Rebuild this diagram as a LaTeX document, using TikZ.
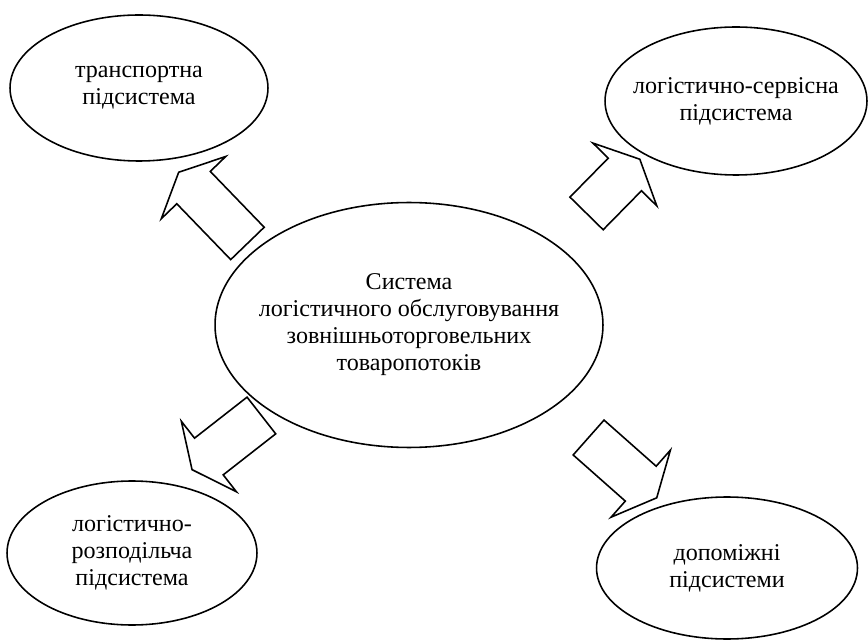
\documentclass[tikz,border=0pt]{standalone}
\usepackage{fontspec}
\setmainfont{Liberation Serif}
\usetikzlibrary{shapes.geometric, shapes.arrows}

\begin{document}
\begin{tikzpicture}[x=0.02cm, y=-0.02cm,
  bubble/.style={draw, ellipse, line width=0.9pt, inner sep=0pt},
  txt/.style={align=center, font=\fontsize{13.7}{15.4}\selectfont},
  blockarr/.style={draw, single arrow, line width=0.9pt, anchor=tail,
    inner xsep=0pt, inner ysep=0.45cm, single arrow head extend=0.43cm,
    single arrow tip angle=129}
]
  \useasboundingbox (0,0) rectangle (868,641);

  \node[bubble, minimum width=7.76cm, minimum height=4.9cm]  (sys)    at (409,325) {};
  \node[bubble, minimum width=5.16cm, minimum height=2.92cm] (transp) at (139,88)  {};
  \node[bubble, minimum width=5.24cm, minimum height=2.96cm] (serv)   at (736,101) {};
  \node[bubble, minimum width=5.0cm,  minimum height=2.88cm] (distr)  at (132,553) {};
  \node[bubble, minimum width=5.22cm, minimum height=2.84cm] (aux)    at (727,568) {};

  \node[txt] (sysText)    at (sys)    {Система\\логістичного обслуговування\\зовнішньоторговельних\\товаропотоків};
  \node[txt] (transpText) at (transp) {транспортна\\підсистема};
  \node[txt] (servText)   at (serv)   {логістично-сервісна\\підсистема};
  \node[txt] (distrText)  at (distr)  {логістично-\\розподільча\\підсистема};
  \node[txt] (auxText)    at (aux)    {допоміжні\\підсистеми};

  % block arrows from the centre
  \node[blockarr, minimum height=1.98cm, rotate=134]   (toTransp) at (248,244) {};
  \node[blockarr, minimum height=1.52cm, rotate=45.5]  (toServ)   at (586,214) {};
  \node[blockarr, minimum height=1.76cm, rotate=218]   (toDistr)  at (262,415) {};
  \node[blockarr, minimum height=1.82cm, rotate=-41.5] (toAux)    at (588,437) {};
\end{tikzpicture}
\end{document}
